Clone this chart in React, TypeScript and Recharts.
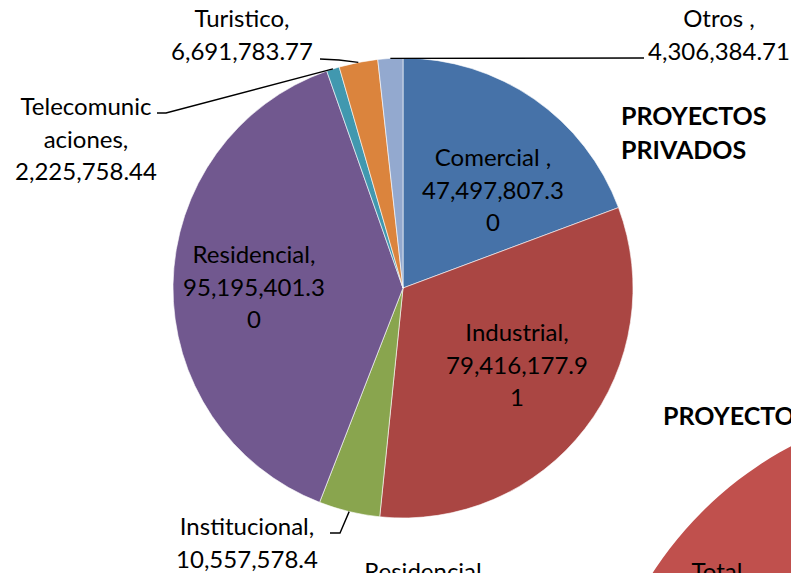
import { PieChart, Pie, Cell } from 'recharts';

const categories = [
  'Comercial ',
  'Industrial',
  'Institucional',
  'Residencial',
  'Telecomunicaciones',
  'Turistico',
  'Otros ',
];
const values = [47497807.3, 79416177.91, 10557578.4, 95195401.3, 2225758.44, 6691783.77, 4306384.71];
const sliceColors = ['#4672A8', '#AA4643', '#89A54E', '#71588F', '#4198AF', '#DB843D', '#93A9CF'];

// second chart, only its edge shows in the frame
const publicCategories = ['Total'];
const publicValues = [1];
const publicColors = ['#C0504D'];

const FONT = "Lato, 'Open Sans', sans-serif";
const FONT_SIZE = 24;
const LINE_H = 32.5;
const WRAP_W = 148;
const RADIAN = Math.PI / 180;

const privateData = categories.map((name, i) => ({ name, value: values[i] }));
const publicData = publicCategories.map((name, i) => ({ name, value: publicValues[i] }));

type Spot = {
  dx: number;
  dy: number;
  elbow?: [number, number];
  end?: [number, number];
  hardW?: number;
};

// label anchors relative to the pie centre (text centre x, first baseline y)
const labelLayout: Record<string, Spot> = {
  'Comercial ': { dx: 90, dy: -122 },
  Industrial: { dx: 114, dy: 53 },
  Institucional: { dx: -156, dy: 247, elbow: [-63, 245], end: [-73, 245] },
  Residencial: { dx: -149, dy: -25 },
  Telecomunicaciones: { dx: -317, dy: -173, elbow: [-237, -175], end: [-246, -175], hardW: 136 },
  Turistico: { dx: -161, dy: -261, elbow: [-64, -228], end: [-83, -229] },
  'Otros ': { dx: 316, dy: -261, elbow: [241, -230], end: [241, -230] },
  Total: { dx: -248, dy: -195 },
};

const fmt = (v: number) =>
  v.toLocaleString('en-US', { minimumFractionDigits: 2, maximumFractionDigits: 2 });

let ctx: CanvasRenderingContext2D | null = null;
function measure(s: string) {
  if (!ctx) {
    ctx = document.createElement('canvas').getContext('2d');
    if (ctx) ctx.font = `${FONT_SIZE}px ${FONT}`;
  }
  return ctx ? ctx.measureText(s).width : s.length * FONT_SIZE * 0.55;
}

// rough copy of Excel's label wrapping: break on spaces, then inside long words
function wrap(text: string, maxW: number, hardW = maxW) {
  const lines: string[] = [];
  let cur = '';
  for (const w of text.split(' ')) {
    const cand = cur ? cur + ' ' + w : w;
    if (measure(cand) <= maxW) {
      cur = cand;
      continue;
    }
    if (cur) lines.push(cur);
    cur = w;
    while (measure(cur) > maxW) {
      let n = cur.length - 1;
      while (n > 1 && measure(cur.slice(0, n)) > hardW) n--;
      lines.push(cur.slice(0, n));
      cur = cur.slice(n);
    }
  }
  if (cur) lines.push(cur);
  return lines;
}

function SliceLabel(props: any, withValue: boolean) {
  const { cx, cy, midAngle, outerRadius, name, value } = props;
  const spot = labelLayout[name];
  if (!spot) return null;
  const lines = withValue ? wrap(`${name}, ${fmt(value)}`, WRAP_W, spot.hardW) : [name];
  const x = cx + spot.dx;
  const y = cy + spot.dy;
  let leader = null;
  if (spot.end && spot.elbow) {
    const sx = cx + outerRadius * Math.cos(-midAngle * RADIAN);
    const sy = cy + outerRadius * Math.sin(-midAngle * RADIAN);
    const pts = [
      [sx, sy],
      [cx + spot.elbow[0], cy + spot.elbow[1]],
      [cx + spot.end[0], cy + spot.end[1]],
    ]
      .map((p) => p.join(','))
      .join(' ');
    leader = <polyline points={pts} fill="none" stroke="#000" strokeWidth={1.4} />;
  }
  return (
    <g>
      {leader}
      <text x={x} y={y} textAnchor="middle" fontFamily={FONT} fontSize={FONT_SIZE} fill="#000">
        {lines.map((l, i) => (
          <tspan key={i} x={x} dy={i === 0 ? 0 : LINE_H}>
            {l}
          </tspan>
        ))}
      </text>
    </g>
  );
}

export default function App() {
  return (
    <div
      style={{
        position: 'absolute',
        left: 0,
        top: 0,
        width: 791,
        height: 573,
        overflow: 'hidden',
        background: '#fff',
      }}
    >
      <PieChart width={791} height={573} margin={{ top: 0, right: 0, bottom: 0, left: 0 }}>
        <Pie
          data={publicData}
          dataKey="value"
          nameKey="name"
          cx={965}
          cy={775}
          outerRadius={372}
          startAngle={90}
          endAngle={-270}
          stroke="none"
          labelLine={false}
          label={(p: any) => SliceLabel(p, false)}
          isAnimationActive={false}
        >
          {publicData.map((d, i) => (
            <Cell key={d.name} fill={publicColors[i]} />
          ))}
        </Pie>
        <Pie
          data={privateData}
          dataKey="value"
          nameKey="name"
          cx={403}
          cy={288}
          outerRadius={230}
          startAngle={90}
          endAngle={-270}
          stroke="#ffffff"
          strokeWidth={0.6}
          labelLine={false}
          label={(p: any) => SliceLabel(p, true)}
          isAnimationActive={false}
        >
          {privateData.map((d, i) => (
            <Cell key={d.name} fill={sliceColors[i]} />
          ))}
        </Pie>
      </PieChart>
      <svg
        width={791}
        height={573}
        style={{ position: 'absolute', left: 0, top: 0, pointerEvents: 'none' }}
      >
        <g fontFamily={FONT} fontWeight="bold" fontSize={25} fill="#000">
          <text x={621} y={125}>PROYECTOS</text>
          <text x={621} y={159}>PRIVADOS</text>
          <text x={663} y={425}>PROYECTOS</text>
        </g>
        <text x={423} y={580} textAnchor="middle" fontFamily={FONT} fontSize={FONT_SIZE} fill="#000">
          Residencial
        </text>
      </svg>
    </div>
  );
}
